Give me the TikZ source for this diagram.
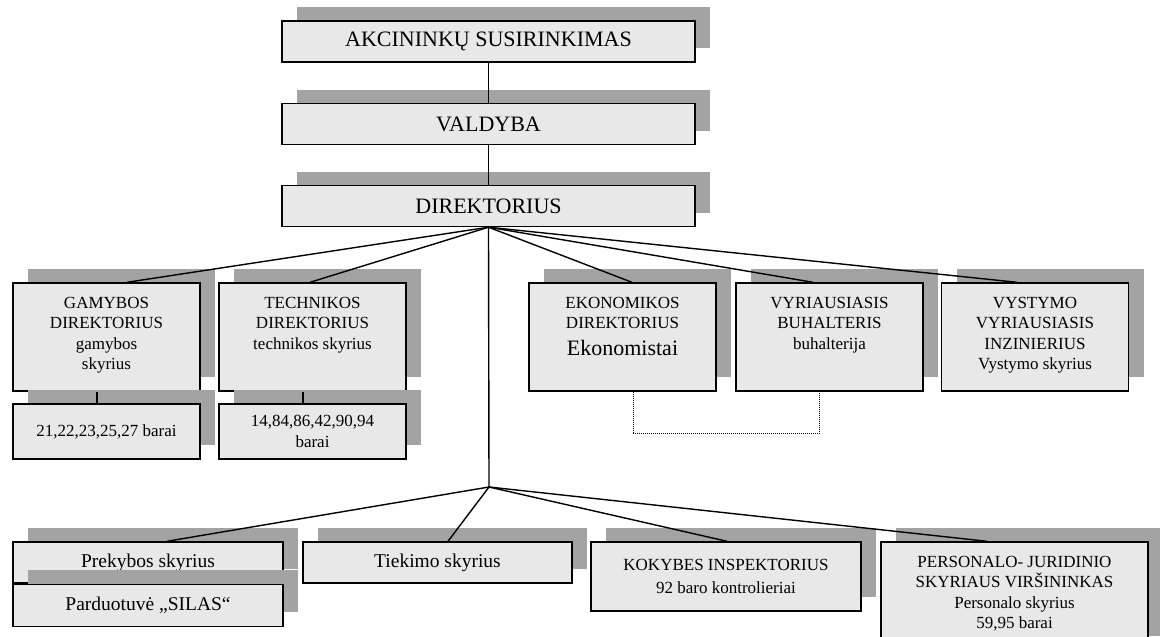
\documentclass[tikz,border=0pt]{standalone}
\usepackage{fontspec}
\setmainfont{Liberation Serif}
\usetikzlibrary{positioning,shadows}

\newcommand{\toplines}[2]{\parbox[c][108pt][t]{#1}{\centering\rule{0pt}{25pt}#2}}

\begin{document}
\begin{tikzpicture}[x=1pt,y=-1pt,
  box/.style={draw, line width=1.4pt, fill=black!9, inner sep=0pt, align=center,
    drop shadow={shadow xshift=15pt, shadow yshift=14pt, fill=black!36, opacity=1}},
  head/.style={box, minimum width=413pt, minimum height=41pt, font=\fontsize{22}{26}\selectfont},
  unit/.style={box, font=\fontsize{17}{20.5}\selectfont},
  dept/.style={box, minimum height=41pt, font=\fontsize{19.5}{23}\selectfont},
  link/.style={line width=1.4pt}]
  \useasboundingbox (0,0) rectangle (1160,637);

  \node[head] (akc) at (488.5,41.5) {AKCININKŲ SUSIRINKIMAS};
  \node[head] (val) at (488.5,124) {VALDYBA};
  \node[head] (dir) at (488.5,206) {DIREKTORIUS};

  \node[unit] (gam) at (106.5,337) {\toplines{187pt}{GAMYBOS\\DIREKTORIUS\\gamybos\\skyrius}};
  \node[unit] (tec) at (312.5,337) {\toplines{187pt}{TECHNIKOS\\DIREKTORIUS\\technikos skyrius}};
  \node[unit] (eko) at (622.5,337) {\toplines{187pt}{EKONOMIKOS\\DIREKTORIUS\\[6pt]{\fontsize{22}{26}\selectfont Ekonomistai}}};
  \node[unit] (vyr) at (829.5,337) {\toplines{187pt}{VYRIAUSIASIS\\BUHALTERIS\\buhalterija}};
  \node[unit] (vys) at (1035,337) {\toplines{187pt}{VYSTYMO\\VYRIAUSIASIS\\INZINIERIUS\\Vystymo skyrius}};

  \node[unit, minimum width=187pt, minimum height=55pt] (gambar) at (106.5,431.5) {21,22,23,25,27 barai};
  \node[unit, minimum width=187pt, minimum height=55pt] (tecbar) at (312.5,431.5) {14,84,86,42,90,94\\barai};

  \node[dept, minimum width=270pt] (prek) at (148,562.5) {Prekybos skyrius};
  \node[dept, minimum width=270pt, minimum height=42pt, below=0pt of prek] (pard) {Parduotuvė „SILAS“};
  \node[dept, minimum width=269pt] (tiek) at (437.5,562.5) {Tiekimo skyrius};
  \node[unit, minimum width=270pt, minimum height=69pt] (kok) at (726,576.5) {KOKYBES INSPEKTORIUS\\[2pt]92 baro kontrolieriai};
  \node[unit] (pers) at (1014.5,596) {\toplines{267pt}{PERSONALO- JURIDINIO\\SKYRIAUS VIRŠININKAS\\Personalo skyrius\\59,95 barai}};

  \coordinate (hub) at (489,487);

  \draw[link] (akc) -- (val);
  \draw[link] (val) -- (dir);
  \draw[link] (dir.south) -- ([xshift=20.5pt]gam.north);
  \draw[link] (dir.south) -- ([xshift=-2.5pt]tec.north);
  \draw[link] (dir.south) -- ([xshift=9.5pt]eko.north);
  \draw[link] (dir.south) -- ([xshift=-16.5pt]vyr.north);
  \draw[link] (dir.south) -- ([xshift=-18pt]vys.north);
  \draw[link] ([xshift=-9.5pt]gam.south) -- ([xshift=-9.5pt]gambar.north);
  \draw[link] ([xshift=-9.5pt]tec.south) -- ([xshift=-9.5pt]tecbar.north);
  \draw[line width=1pt, dash pattern=on 1pt off 1pt]
    ([xshift=10.5pt]eko.south) -- ++(0,42) -| ([xshift=-10.5pt]vyr.south);
  \draw[link] (dir.south) -- (hub);
  \draw[link] (hub) -- ([xshift=19pt]prek.north);
  \draw[link] (hub) -- ([xshift=10.5pt]tiek.north);
  \draw[link] (hub) -- ([xshift=1pt]kok.north);
  \draw[link] (hub) -- ([xshift=-27.5pt]pers.north);
\end{tikzpicture}
\end{document}
